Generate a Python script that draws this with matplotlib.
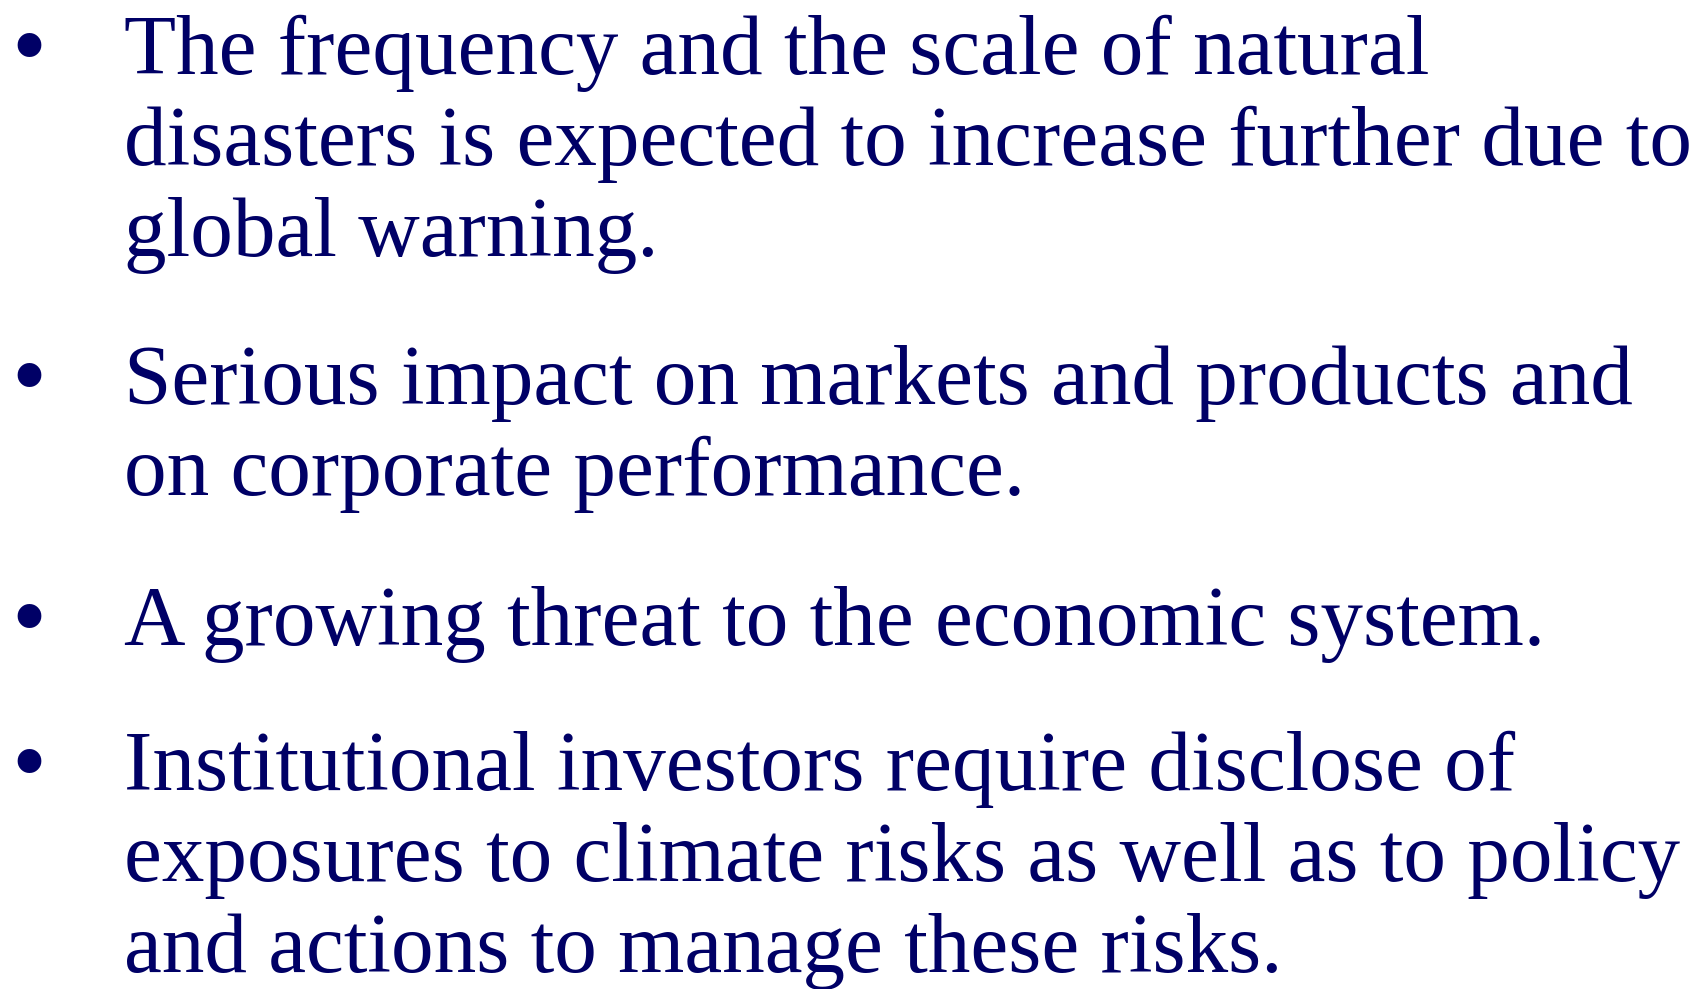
import matplotlib
matplotlib.use("Agg")
import matplotlib.pyplot as plt

bullets = [
    ["The frequency and the scale of natural",
     "disasters is expected to increase further due to",
     "global warning."],
    ["Serious impact on markets and products and",
     "on corporate performance."],
    ["A growing threat to the economic system."],
    ["Institutional investors require disclose of",
     "exposures to climate risks as well as to policy",
     "and actions to manage these risks."],
]
first_baselines = [74, 404, 645, 790]
line_step = 91
text_color = "#000066"

W, H = 1701, 989
fig = plt.figure(figsize=(W / 100, H / 100), dpi=100)
fig.patch.set_facecolor("white")

fs = 61.3
for lines, b0 in zip(bullets, first_baselines):
    fig.text(11 / W, 1 - (b0 + 4) / H, "\u2022", fontsize=72, family="Liberation Serif",
             color=text_color, va="baseline", ha="left")
    for i, ln in enumerate(lines):
        y = b0 + i * line_step
        fig.text(124 / W, 1 - y / H, ln, fontsize=fs, family="Liberation Serif",
                 color=text_color, va="baseline", ha="left")

fig.savefig("out.png", dpi=100, facecolor="white")
